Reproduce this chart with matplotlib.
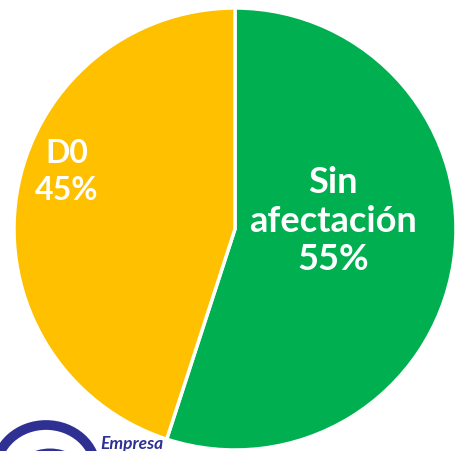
import matplotlib
matplotlib.use("Agg")
import matplotlib.pyplot as plt
from matplotlib.patches import Arc

categories = ["Sin\nafectación", "D0"]
values = [55, 45]
colors = ["#00B050", "#FFC000"]

W, H = 456, 451
fig = plt.figure(figsize=(W / 100, H / 100), dpi=100)
ax = fig.add_axes([0, 0, 1, 1])
R = 221.0
cx, cy = 235.0, 229.0
ax.axis("off")

wedges, _ = ax.pie(values, colors=colors, startangle=90, counterclock=False,
                   radius=1.0, center=(0, 0),
                   wedgeprops=dict(edgecolor="white", linewidth=2.5))
ax.set_aspect("auto")
ax.set_xlim(-cx / R, (W - cx) / R)
ax.set_ylim(-(H - cy) / R, cy / R)

def px(x, y):
    return ((x - cx) / R, (cy - y) / R)

fam = ["Lato", "DejaVu Sans"]
x, y = px(333, 221)
ax.text(x, y, f"{categories[0]}\n{values[0]}%", ha="center", va="center",
        color="white", fontsize=26, fontweight="bold", family=fam, linespacing=1.2)
x, y = px(67, 172)
ax.text(x, y, f"{categories[1]}\n{values[1]}%", ha="center", va="center",
        color="white", fontsize=23, fontweight="bold", family=fam, linespacing=1.3)

# logo fragment at bottom left
ov = fig.add_axes([0, 0, 1, 1], facecolor="none")
ov.set_xlim(0, W)
ov.set_ylim(H, 0)
ov.axis("off")
ov.add_patch(Arc((46, 470), 100, 90, theta1=0, theta2=360, color="#2E3192", lw=7))
ov.add_patch(Arc((50, 474), 62, 44, theta1=180, theta2=360, color="#2E3192", lw=5))
ov.text(100, 452, "Empresa", color="#2E3192", fontsize=12.5, fontweight="bold",
        fontstyle="italic", family=fam, ha="left", va="bottom")

fig.savefig("out.png", dpi=100)
